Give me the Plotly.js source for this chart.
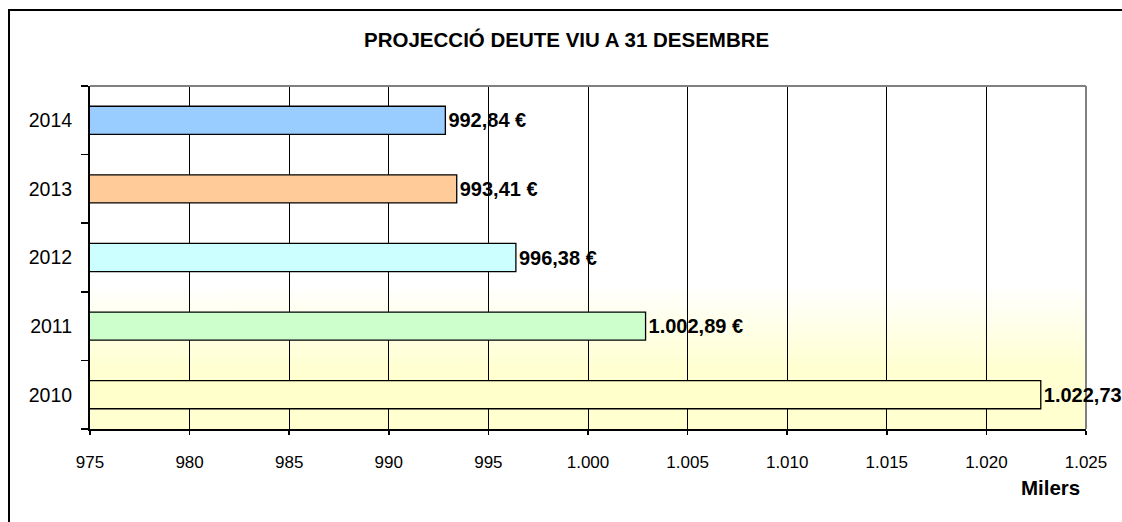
<!DOCTYPE html>
<html>
<head>
<meta charset="utf-8">
<script src="https://cdn.plot.ly/plotly-3.0.1.min.js"></script>
<style>
  html, body { margin: 0; padding: 0; background: #fff; }
  #wrap { position: relative; width: 1122px; height: 522px; overflow: hidden; }
  #chart { position: absolute; left: 0; top: 0; width: 1122px; height: 522px; }
  #frame { position: absolute; left: 8px; top: 9px; width: 1200px; height: 600px;
           border-left: 2px solid #000; border-top: 2px solid #000; pointer-events: none; }
</style>
</head>
<body>
<div id="wrap">
  <div id="chart"></div>
  <div id="frame"></div>
</div>
<script>
// Data
const years = ['2010', '2011', '2012', '2013', '2014'];
const values = [1022.73, 1002.89, 996.38, 993.41, 992.84];
const barColors = ['#FFFFCC', '#CCFFCC', '#CCFFFF', '#FFCC99', '#99CCFF'];
const xTickVals = [975, 980, 985, 990, 995, 1000, 1005, 1010, 1015, 1020, 1025];
const titleText = 'PROJECCIÓ DEUTE VIU A 31 DESEMBRE';
const unitText = 'Milers';

// background gradient for plot area
const cv = document.createElement('canvas');
cv.width = 4; cv.height = 343;
const ctx = cv.getContext('2d');
const g = ctx.createLinearGradient(0, 0, 0, 343);
g.addColorStop(0, '#FFFFFF');
g.addColorStop(0.58, '#FFFFFF');
g.addColorStop(0.82, '#FFFFD2');
g.addColorStop(1, '#FFFFCF');
ctx.fillStyle = g;
ctx.fillRect(0, 0, 4, 343);
const bgUrl = cv.toDataURL('image/png');

const font = 'Arial, "Liberation Sans", sans-serif';

const trace = {
  type: 'bar',
  orientation: 'h',
  y: years,
  x: values,
  marker: { color: barColors, line: { color: '#000', width: 1.3 } },
  texttemplate: '%{x:,.2f} €',
  textposition: 'outside',
  constraintext: 'none',
  cliponaxis: false,
  textfont: { family: font, size: 20, color: '#000', weight: 'bold' },
  hoverinfo: 'skip'
};

const layout = {
  width: 1122, height: 522,
  margin: { l: 90, r: 36, t: 86, b: 93, pad: 0 },
  paper_bgcolor: 'rgba(0,0,0,0)',
  plot_bgcolor: 'rgba(0,0,0,0)',
  separators: ',.',
  bargap: 0.59,
  showlegend: false,
  title: {
    text: '<b>' + titleText + '</b>',
    font: { family: font, size: 20.5, color: '#000' },
    xref: 'container', x: 0.505, xanchor: 'center',
    yref: 'container', y: 1 - 40 / 522, yanchor: 'middle'
  },
  xaxis: {
    range: [975, 1025],
    tickvals: xTickVals,
    tickformat: ',d',
    showgrid: true, gridcolor: '#000', gridwidth: 1,
    zeroline: false,
    showline: true, linecolor: '#000', linewidth: 2,
    ticks: 'outside', ticklen: 4, tickwidth: 1.5, tickcolor: '#000',
    ticklabelstandoff: 13,
    tickfont: { family: font, size: 17, color: '#000' },
    fixedrange: true
  },
  yaxis: {
    type: 'category',
    categoryorder: 'array',
    categoryarray: years,
    showgrid: false,
    zeroline: false,
    showline: true, linecolor: '#000', linewidth: 2,
    ticks: 'outside', tickson: 'boundaries', ticklen: 7, tickwidth: 1.5, tickcolor: '#000',
    ticklabelstandoff: 12,
    tickfont: { family: font, size: 19.5, color: '#000' },
    fixedrange: true
  },
  images: [{
    source: bgUrl, xref: 'paper', yref: 'paper',
    x: 0, y: 1, sizex: 1, sizey: 1, sizing: 'stretch',
    xanchor: 'left', yanchor: 'top', layer: 'below'
  }],
  shapes: [
    { type: 'line', xref: 'paper', yref: 'paper', x0: 0, x1: 1, y0: 1, y1: 1,
      line: { color: '#808080', width: 2 }, layer: 'above' },
    { type: 'line', xref: 'paper', yref: 'paper', x0: 1, x1: 1, y0: 0, y1: 1,
      line: { color: '#808080', width: 2 }, layer: 'below' }
  ],
  annotations: [{
    text: '<b>' + unitText + '</b>',
    xref: 'paper', yref: 'paper',
    x: (1082 - 90) / 996, xanchor: 'right',
    y: -(487 - 429) / 343, yanchor: 'middle',
    showarrow: false,
    font: { family: font, size: 20.5, color: '#000' }
  }]
};

Plotly.newPlot('chart', [trace], layout, { displayModeBar: false, staticPlot: true });
</script>
</body>
</html>
